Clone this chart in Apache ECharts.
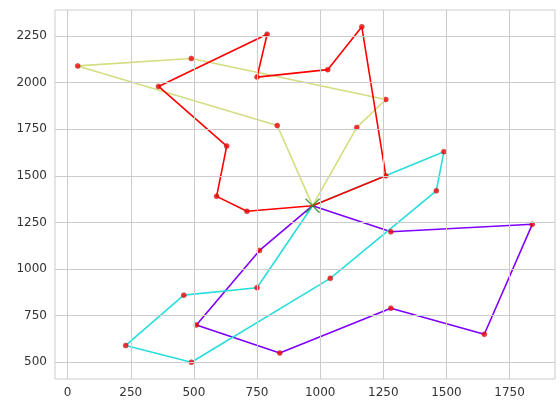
<!DOCTYPE html>
<html>
<head>
<meta charset="utf-8">
<script src="https://cdn.jsdelivr.net/npm/echarts@6/dist/echarts.min.js"></script>
<style>html,body{margin:0;padding:0;background:#fff}#chart{width:560px;height:413px}</style>
</head>
<body>
<div id="chart"></div>
<script>
// depot and routes (each route starts and ends at the depot)
var depot = [970, 1340];
var routePurple = [[1280, 1200], [1840, 1240], [1650, 650], [1280, 790], [840, 550], [510, 700], [760, 1100]];
var routeCyan = [[1490, 1630], [1460, 1420], [1040, 950], [490, 500], [230, 590], [460, 860], [750, 900]];
var routeKhaki = [[830, 1770], [40, 2090], [490, 2130], [1260, 1910], [1145, 1760]];
var routeRed = [[1260, 1500], [1165, 2300], [1030, 2070], [750, 2030], [790, 2260], [360, 1980], [630, 1660], [590, 1390], [710, 1310]];
var xTicks = [0, 250, 500, 750, 1000, 1250, 1500, 1750];
var yTicks = [500, 750, 1000, 1250, 1500, 1750, 2000, 2250];

var routes = [
    {data: routePurple, color: '#7f00ff'},
    {data: routeCyan, color: '#2adddd'},
    {data: routeKhaki, color: '#d4dd80'},
    {data: routeRed, color: '#ff0000'}
];

var myChart = echarts.init(document.getElementById('chart'));
var series = [{
    type: 'line', data: [], silent: true,
    markLine: {
        silent: true, symbol: 'none', label: {show: false},
        lineStyle: {color: '#cccccc', type: 'solid', width: 1},
        data: xTicks.map(function (v) { return {xAxis: v}; })
            .concat(yTicks.map(function (v) { return {yAxis: v}; }))
    }
}];
routes.forEach(function (r) {
    series.push({
        type: 'line',
        data: [depot].concat(r.data).concat([depot]),
        symbol: 'none',
        lineStyle: {color: r.color, width: 1.6},
        z: 3
    });
});
routes.forEach(function (r) {
    series.push({
        type: 'scatter',
        data: r.data,
        symbolSize: 5,
        itemStyle: {color: '#ff0000', borderColor: '#993333', borderWidth: 0.6},
        z: 4
    });
});
series.push({
    type: 'scatter',
    data: [depot],
    symbol: 'path://M0,0 L10,10 M10,0 L0,10',
    symbolSize: 14,
    itemStyle: {color: 'none', borderColor: '#228b22', borderWidth: 1.5},
    z: 5
});

var plain = function (v) { return String(v); };
myChart.setOption({
    animation: false,
    backgroundColor: '#ffffff',
    grid: {left: 55, right: 5, top: 10, bottom: 34, show: true, borderColor: '#cccccc', borderWidth: 1},
    xAxis: {
        type: 'value', min: -50, max: 1930,
        axisLine: {show: false}, axisTick: {show: false}, splitLine: {show: false},
        axisLabel: {customValues: xTicks, formatter: plain, color: '#333', fontSize: 12, fontFamily: 'DejaVu Sans', margin: 8}
    },
    yAxis: {
        type: 'value', min: 410, max: 2390,
        axisLine: {show: false}, axisTick: {show: false}, splitLine: {show: false},
        axisLabel: {customValues: yTicks, formatter: plain, color: '#333', fontSize: 12, fontFamily: 'DejaVu Sans', margin: 8}
    },
    series: series
});
</script>
</body>
</html>
